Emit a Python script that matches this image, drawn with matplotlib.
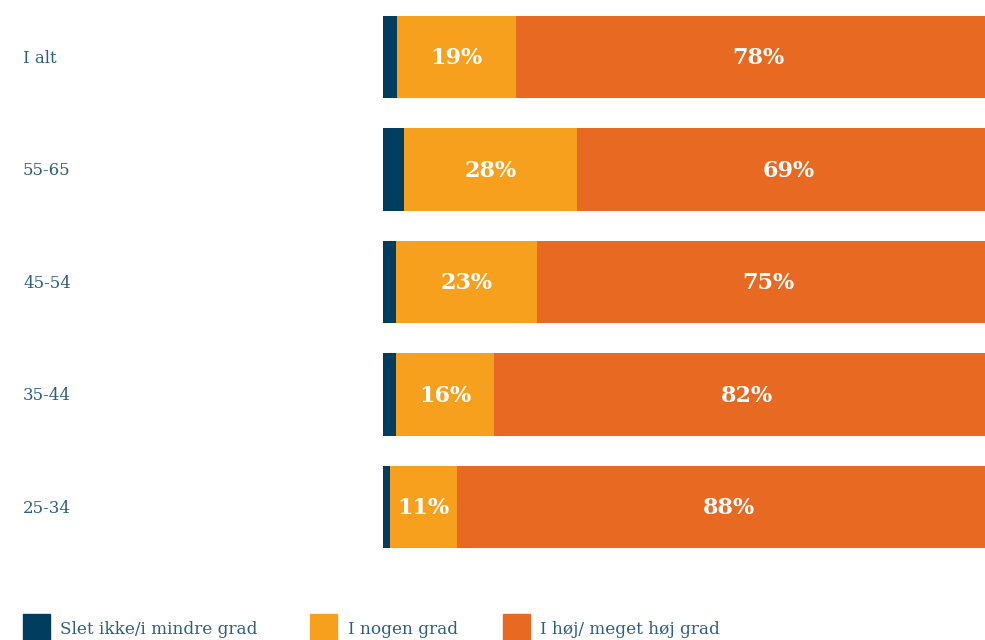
import matplotlib.pyplot as plt
from matplotlib.patches import Rectangle
import numpy as np

plt.rcParams['font.family'] = ['DejaVu Serif']

# survey shares per age group (percent)
groups = ['I alt', '55-65', '45-54', '35-44', '25-34']
low = [2.2, 3.4, 2.1, 2.1, 1.1]
some = [19.4, 28.0, 22.9, 15.9, 10.9]
high = [78.4, 68.6, 75.0, 82.0, 88.0]
series_names = ['Slet ikke/i mindre grad', 'I nogen grad', 'I høj/ meget høj grad']
colors = ['#003d5e', '#f7a01e', '#e86a22']
text_color = '#2f5f7f'

W, H = 985, 640
fig = plt.figure(figsize=(W / 100, H / 100), dpi=100)
# the bars run a little past the right edge of the canvas
ax = fig.add_axes([383 / W, 1 - 548 / H, 617 / W, 532 / H])

y = np.arange(len(groups))
bar_h = 0.73
left = np.zeros(len(groups))
for vals, col in zip([low, some, high], colors):
    vals = np.array(vals, dtype=float)
    ax.barh(y, vals, left=left, height=bar_h, color=col, linewidth=0)
    left += vals

# percentage labels on the two larger segments
for i in range(len(groups)):
    x0 = low[i]
    ax.text(x0 + some[i] / 2, y[i] + 0.01, f'{some[i]:.0f}%', ha='center', va='center',
            color='white', fontsize=16, fontweight='bold')
    x1 = low[i] + some[i]
    ax.text(x1 + high[i] / 2, y[i] + 0.01, f'{high[i]:.0f}%', ha='center', va='center',
            color='white', fontsize=16, fontweight='bold')

ax.set_xlim(0, 100)
ax.set_ylim(len(groups) - 1 + bar_h / 2, -bar_h / 2)
ax.axis('off')

# category names sit at the far left of the figure
for i, g in enumerate(groups):
    fig.text(23 / W, ax.transData.transform((0, y[i] + 0.01))[1] / H, g,
             ha='left', va='center', color=text_color, fontsize=12)

# legend along the bottom edge
legend_x = [(23, 60), (310, 348), (503, 540)]
for (sx, tx), name, col in zip(legend_x, series_names, colors):
    fig.patches.append(Rectangle((sx / W, -10 / H), 27 / W, 36 / H,
                                 transform=fig.transFigure, color=col))
    fig.text(tx / W, 1 - 629 / H, name, ha='left', va='center',
             color=text_color, fontsize=12.2)

fig.savefig('out.png', dpi=100)
